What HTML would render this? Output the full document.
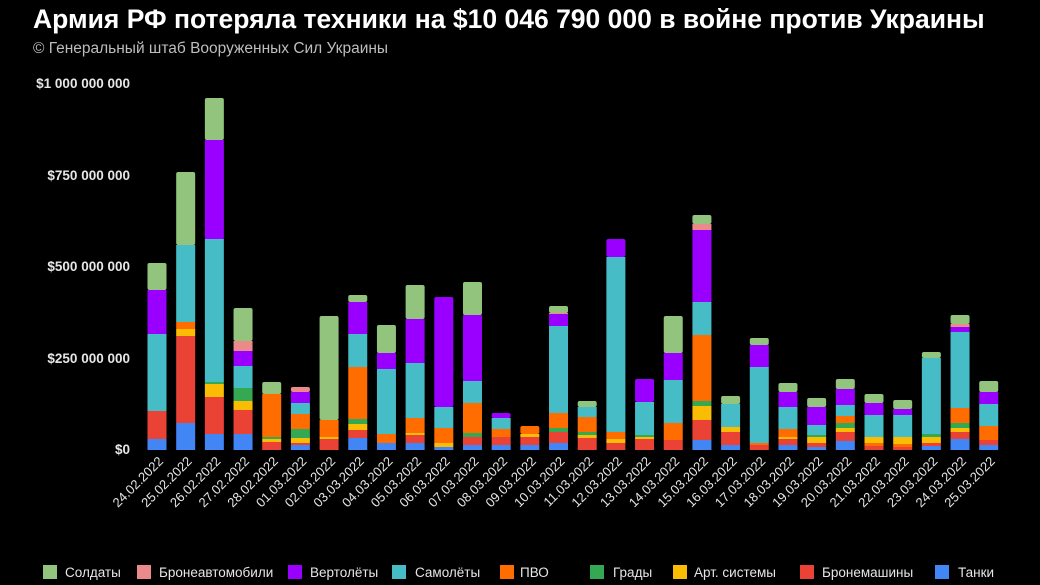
<!DOCTYPE html>
<html><head><meta charset="utf-8"><style>
body{margin:0;background:#000;width:1040px;height:585px;overflow:hidden}
svg{display:block}
text{font-family:"Liberation Sans",sans-serif}
</style></head><body>
<svg id="s" width="1040" height="585" xmlns="http://www.w3.org/2000/svg">
<rect width="1040" height="585" fill="#000"/>
<text x="33" y="28" fill="#fff" font-size="26.5" font-weight="bold">Армия РФ потеряла техники на $10 046 790 000 в войне против Украины</text>
<text x="33" y="53" fill="#bdbdbd" font-size="15.5">© Генеральный штаб Вооруженных Сил Украины</text>
<g fill="#e6e6e6" font-size="13.5" font-weight="bold" text-anchor="end">
<text x="130" y="88">$1 000 000 000</text>
<text x="130" y="180">$750 000 000</text>
<text x="130" y="271">$500 000 000</text>
<text x="130" y="363">$250 000 000</text>
<text x="130" y="454">$0</text>
</g>
<g id="bars"></g>
<g id="labels" fill="#e6e6e6" font-size="13"></g>
<g font-size="13.5" fill="#e6e6e6">
<rect x="43" y="565" width="14" height="14" fill="#93c47d"/><text x="65" y="577">Солдаты</text>
<rect x="137" y="565" width="14" height="14" fill="#ea8a8a"/><text x="159" y="577">Бронеавтомобили</text>
<rect x="288" y="565" width="14" height="14" fill="#9900ff"/><text x="310" y="577">Вертолёты</text>
<rect x="392" y="565" width="14" height="14" fill="#46bdc6"/><text x="415" y="577">Самолёты</text>
<rect x="500" y="565" width="14" height="14" fill="#ff6d01"/><text x="520" y="577">ПВО</text>
<rect x="590" y="565" width="14" height="14" fill="#34a853"/><text x="613" y="577">Грады</text>
<rect x="673" y="565" width="14" height="14" fill="#fbbc04"/><text x="694" y="577">Арт. системы</text>
<rect x="800" y="565" width="14" height="14" fill="#ea4335"/><text x="822" y="577">Бронемашины</text>
<rect x="935" y="565" width="14" height="14" fill="#4285f4"/><text x="958" y="577">Танки</text>
</g>
</svg>
<script>
var C={b:"#4285f4",r:"#ea4335",y:"#fbbc04",g:"#34a853",o:"#ff6d01",c:"#46bdc6",p:"#9900ff",k:"#ea8a8a",s:"#93c47d"};
var D=[
"b439 r411 c334 p290 s263","b423 r336 y329 o322 c245 s172","b434 r397 y384 g382 c239 p140 s98",
"b434 r410 y401 g388 c366 p351 k341 s308","r442 y439 g437 o394 s382","b445 r443 y438 g429 o414 c403 p392 k387",
"r439 y437 o420 s316","b438 r430 y424 g419 o367 c334 p302 s295","b443 o434 c369 p353 s325",
"b443 r435 y433 o418 c363 p319 s285","b447 y443 o428 c407 p297","b445 r437 g433 o403 c381 p315 s282",
"b445 r437 o429 c418 p413","b445 r437 y434 o426","b443 r432 g428 o413 c326 p314 k313 s306",
"r438 y435 g432 o417 c407 s401","r443 y439 o432 c257 p239","r439 y437 g435 c402 p379",
"r440 o423 c380 p353 s316","b440 r420 y406 g401 o335 c302 p230 k224 s215","b445 r432 y427 c404 s396",
"r445 o443 c367 p345 s338","b445 r439 y437 o429 c407 p392 s383","b447 r443 y437 g435 c425 p407 s398",
"b441 r432 y428 g423 o416 c405 p389 s379","r446 o443 y437 c415 p403 s394","r447 o444 y437 c415 p409 s400",
"b446 r443 y437 g434 c358 s352","b439 r432 y428 g423 o408 c332 p327 k324 s315","b445 r440 o426 c404 p392 s381"];
var L=["24.02","25.02","26.02","27.02","28.02","01.03","02.03","03.03","04.03","05.03","06.03","07.03","08.03","09.03","10.03","11.03","12.03","13.03","14.03","15.03","16.03","17.03","18.03","19.03","20.03","21.03","22.03","23.03","24.03","25.03"];
var ns="http://www.w3.org/2000/svg",g=document.getElementById("bars"),lg=document.getElementById("labels");
D.forEach(function(d,i){var cx=157+i*28.68,prev=450;var segs=d.split(" ");
segs.forEach(function(s,j){var t=+s.slice(1);var r=document.createElementNS(ns,"rect");
r.setAttribute("x",cx-9.5);r.setAttribute("y",t);r.setAttribute("width",19);r.setAttribute("height",prev-t);
r.setAttribute("fill",C[s[0]]);if(j==segs.length-1){r.setAttribute("rx",2);}g.appendChild(r);prev=t;});
var tx=document.createElementNS(ns,"text");tx.setAttribute("text-anchor","end");
tx.setAttribute("transform","translate("+(cx+7)+",462) rotate(-45)");tx.textContent=L[i]+".2022";lg.appendChild(tx);});
</script>
</body></html>
